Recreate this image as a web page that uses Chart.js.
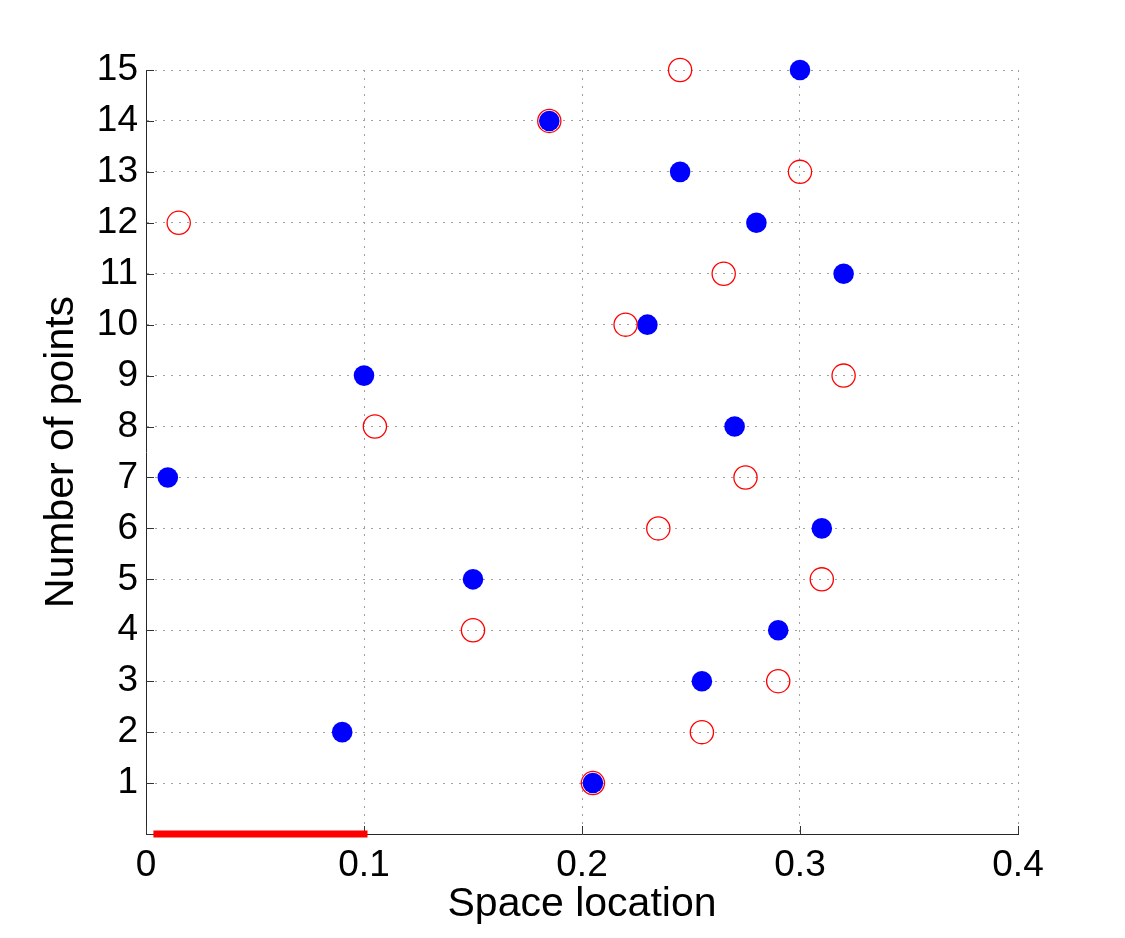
<!DOCTYPE html>
<html>
<head>
<meta charset="utf-8">
<script src="https://cdn.jsdelivr.net/npm/chart.js@4"></script>
<style>
html,body{margin:0;padding:0;background:#fff;}
canvas{display:block;}
</style>
</head>
<body>
<canvas id="c" width="1125" height="938"></canvas>
<script>
// ---- data ----
const yLevels = [1, 2, 3, 4, 5, 6, 7, 8, 9, 10, 11, 12, 13, 14, 15];
const blueX = [0.205, 0.09, 0.255, 0.29, 0.15, 0.31, 0.01, 0.27, 0.10, 0.23, 0.32, 0.28, 0.245, 0.185, 0.30];
const redX  = [0.205, 0.255, 0.29, 0.15, 0.31, 0.235, 0.275, 0.105, 0.32, 0.22, 0.265, 0.015, 0.30, 0.185, 0.245];
const segmentX = [0.005, 0.1];
const segmentY = [0, 0];
const xTickValues = [0, 0.1, 0.2, 0.3, 0.4];
const xTickLabels = ['0', '0.1', '0.2', '0.3', '0.4'];
const yTickLabels = ['', '1', '2', '3', '4', '5', '6', '7', '8', '9', '10', '11', '12', '13', '14', '15'];
const xTitle = 'Space location';
const yTitle = 'Number of points';

const FONT = '"Liberation Sans", Arial, Helvetica, sans-serif';

const inwardTicks = {
  id: 'inwardTicks',
  beforeDatasetsDraw(chart) {
    const {ctx, scales: {x, y}, chartArea: a} = chart;
    ctx.save();
    ctx.strokeStyle = '#333';
    ctx.lineWidth = 1;
    ctx.beginPath();
    y.ticks.forEach(t => {
      const py = Math.round(y.getPixelForValue(t.value)) + 0.5;
      ctx.moveTo(a.left, py); ctx.lineTo(a.left + 8, py);
    });
    x.ticks.forEach(t => {
      const px = Math.round(x.getPixelForValue(t.value)) + 0.5;
      ctx.moveTo(px, a.bottom); ctx.lineTo(px, a.bottom - 8);
    });
    ctx.stroke();
    ctx.restore();
  }
};

new Chart(document.getElementById('c'), {
  type: 'scatter',
  data: {
    datasets: [
      {
        label: 'segment',
        type: 'line',
        data: segmentX.map((v, i) => ({x: v, y: segmentY[i]})),
        borderColor: '#ff0000',
        borderWidth: 7,
        borderCapStyle: 'square',
        pointRadius: 0,
        showLine: true,
        fill: false,
        clip: false,
        order: 0
      },
      {
        label: 'blue',
        data: yLevels.map((v, i) => ({x: blueX[i], y: v})),
        backgroundColor: '#0000ff',
        borderColor: '#0000ff',
        borderWidth: 0,
        pointRadius: 10.3,
        clip: false,
        order: 2
      },
      {
        label: 'red',
        data: yLevels.map((v, i) => ({x: redX[i], y: v})),
        backgroundColor: 'rgba(0,0,0,0)',
        borderColor: '#ff0000',
        borderWidth: 1.3,
        pointRadius: 11.6,
        clip: false,
        order: 1
      }
    ]
  },
  options: {
    responsive: false,
    animation: false,
    events: [],
    layout: { padding: { left: 0, top: 70, right: 107, bottom: 0 } },
    plugins: { legend: { display: false }, tooltip: { enabled: false } },
    scales: {
      x: {
        type: 'linear',
        min: 0, max: 0.4,
        afterBuildTicks(scale) { scale.ticks = xTickValues.map(v => ({value: v})); },
        afterFit(scale) { scale.height = 104; },
        ticks: {
          color: '#000',
          font: { family: FONT, size: 37 },
          padding: 10,
          maxRotation: 0,
          autoSkip: false,
          callback: (v, i) => xTickLabels[i]
        },
        grid: { color: '#a0a0a0', lineWidth: 1, drawTicks: false },
        border: { display: true, color: '#262626', width: 1, dash: [2, 6] },
        title: { display: true, text: xTitle, color: '#000', font: { family: FONT, size: 41 }, padding: { top: 0, bottom: 9 } }
      },
      y: {
        type: 'linear',
        min: 0, max: 15,
        afterFit(scale) { scale.width = 146; },
        ticks: {
          stepSize: 1,
          color: '#000',
          font: { family: FONT, size: 37 },
          padding: 8,
          autoSkip: false,
          callback: (v) => yTickLabels[v]
        },
        grid: { color: '#a0a0a0', lineWidth: 1, drawTicks: false },
        border: { display: true, color: '#262626', width: 1, dash: [2, 6] },
        title: { display: true, text: yTitle, color: '#000', font: { family: FONT, size: 41 }, padding: { top: 37, bottom: 0 } }
      }
    }
  },
  plugins: [inwardTicks]
});
</script>
</body>
</html>
